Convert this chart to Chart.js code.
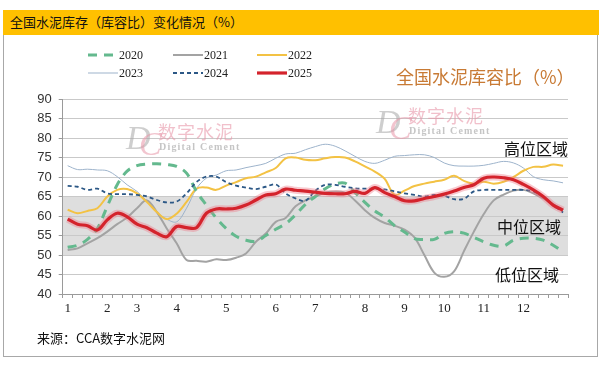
<!DOCTYPE html>
<html>
<head>
<meta charset="utf-8">
<script src="https://cdn.jsdelivr.net/npm/chart.js@4.4.1/dist/chart.umd.min.js"></script>
<style>
    html, body { margin: 0; padding: 0; background: #fff; }
    #wrap { position: relative; width: 605px; height: 367px; overflow: hidden; font-family: "Noto Sans CJK SC", sans-serif; }
    #head { position: absolute; left: 3px; top: 10px; width: 596px; height: 25px; background: #ffc000; }
    #head span { position: absolute; left: 7px; top: 3px; font-size: 13px; line-height: 18px; color: #111; }
    #frame { position: absolute; left: 3px; top: 35px; width: 593px; height: 321px; border: 1px solid #a8a8a8; border-top: none; }
    #chart { position: absolute; left: 0; top: 0; }
    .txt { position: absolute; white-space: nowrap; line-height: 1; }
    .zone { font-size: 16px; color: #111; }
    .leg { position: absolute; height: 14px; display: flex; align-items: center; font-family: "Liberation Serif", serif; font-size: 12px; color: #222; }
    .leg svg { margin-right: 1px; }
    .wm-d { font-family: "Liberation Serif", serif; font-style: italic; font-size: 34px; color: rgba(165,165,165,0.55); }
    .wm-c { font-family: "Liberation Serif", serif; font-style: italic; font-size: 34px; color: rgba(232,150,168,0.55); }
    .wm-cn { font-size: 18px; letter-spacing: 1px; color: rgba(232,150,168,0.6); font-family: "Noto Sans CJK SC", serif; }
    .wm-en { font-family: "Liberation Serif", serif; font-weight: bold; font-size: 10px; letter-spacing: 1.2px; color: rgba(150,150,150,0.55); }
</style>
</head>
<body>
<div id="wrap">
    <div id="head"><span>全国水泥库存（库容比）变化情况（%）</span></div>
    <div id="frame"></div>
    <canvas id="chart" width="605" height="367"></canvas>

    <!-- watermarks -->
    <div class="txt wm-d" style="left:126px;top:121px;">D</div>
    <div class="txt wm-c" style="left:139px;top:127px;">C</div>
    <div class="txt wm-cn" style="left:158px;top:122px;">数字水泥</div>
    <div class="txt wm-en" style="left:159px;top:142px;">Digital Cement</div>
    <div class="txt wm-d" style="left:376px;top:105px;">D</div>
    <div class="txt wm-c" style="left:389px;top:111px;">C</div>
    <div class="txt wm-cn" style="left:408px;top:106px;">数字水泥</div>
    <div class="txt wm-en" style="left:409px;top:126px;">Digital Cement</div>

    <div class="txt" style="left:396px;top:67px;font-size:18px;color:#c87a34;">全国水泥库容比（%）</div>
    <div class="txt zone" style="left:504px;top:140px;">高位区域</div>
    <div class="txt zone" style="left:497px;top:218px;">中位区域</div>
    <div class="txt zone" style="left:495px;top:266px;">低位区域</div>
    <div class="txt" style="left:37px;top:331px;font-size:13px;color:#111;">来源：CCA数字水泥网</div>
    <div id="legend"></div>
</div>

<script>
// weekly inventory ratio (%), 51 weeks per year
const monthLabels = ['1', '2', '3', '4', '5', '6', '7', '8', '9', '10', '11', '12'];
const monthWeek = [0, 4, 7, 11, 16, 21, 25, 30, 34, 38, 42, 46];

const y2020 = [52, 52.5, 54, 56.8, 62.5, 68, 71.5, 72.9, 73.3, 73.4, 73.2, 72.7, 71, 66.3, 62.8, 59.5, 56.8,
    54.8, 53.8, 53.5, 55, 56.6, 58, 60.3, 63, 65, 67, 68.2, 68.4, 66, 63.5, 61.3, 59.7, 57.5, 55.9, 54.2,
    54, 54, 55.5, 56, 55.6, 54.5, 53.4, 52.5, 52.3, 53.8, 54.3, 54.3, 53.8, 52.5, 50.8];
const y2021 = [51.3, 51.7, 53, 54.3, 56, 57.9, 59.6, 62, 64, 61, 56.8, 53, 48.7, 48.5, 48.3, 48.9, 48.7,
    49.3, 50.4, 53.4, 55.5, 58.5, 59.5, 62.5, 64, 65, 66, 66.3, 66, 64, 61.5, 59.5, 58.2, 57.5, 56.5, 54.5,
    50, 45.5, 44.4, 45.8, 51, 56, 60.5, 64, 65.5, 66.5, 66.7, 65.8, 64.5, 63, 61.5];
const y2022 = [61.6, 60.7, 61.3, 62, 65, 66.7, 66.9, 65.8, 63.6, 61, 59.2, 60.6, 63.6, 67, 67.3, 66.7, 67.8,
    68.7, 69.7, 70.1, 71.2, 72.3, 74.8, 75, 74.4, 74.3, 74.8, 75.1, 75, 74, 72.7, 71.4, 69.5, 65.4, 66.5,
    67.7, 68.3, 68.8, 69.3, 70.3, 69, 68.3, 68.8, 68.3, 68.8, 70, 71.6, 72.6, 72.6, 73.2, 72.9];
const y2023 = [72.9, 71.9, 72, 71.8, 71.6, 70.1, 68, 66.3, 63.8, 61.1, 59.2, 58.5, 62, 67, 69.7, 70.5, 71.6,
    71.8, 72.4, 72.9, 73.5, 74.8, 75.9, 76.1, 77, 77.8, 78.4, 77.9, 76.7, 75.3, 74, 73.5, 74.3, 75.3, 75.5,
    75.7, 75.7, 75, 73.6, 72.9, 72.8, 72.8, 73, 73.5, 74, 73.6, 72.3, 70.1, 69.3, 69, 68.5];
const y2024 = [67.7, 67.5, 66.7, 67, 65.8, 65.6, 65.6, 65.4, 65, 64.1, 63.5, 63.7, 65.8, 68.7, 70.1, 70.1,
    68.7, 67.8, 67.3, 66.9, 67.5, 68.1, 65.8, 64.5, 63.9, 66.5, 68, 68, 67.5, 67.1, 67, 67, 66.8, 66.3, 65.8,
    65.4, 65, 65.4, 65.2, 64.3, 64.4, 66.3, 66.7, 66.7, 66.7, 66.7, 66.7, 66.3, 65, 62.8, 60.9];
const y2025 = [59.2, 57.9, 57.5, 56.4, 59, 60.7, 59.8, 57.9, 57, 55.6, 54.7, 57.3, 57, 57, 60.7, 61.8, 61.8,
    62, 62.8, 64.1, 65.4, 65.7, 66.9, 66.6, 66.4, 66.1, 65.8, 65.7, 65.7, 66.3, 65.8, 67.3, 66, 65, 63.9,
    63.9, 64.5, 65, 65.6, 66.4, 67.3, 68, 69.7, 70, 69.8, 69.3, 68.1, 66.7, 65, 62.8, 61.5];

const yearNames = ['2020', '2021', '2022', '2023', '2024', '2025'];
const midZone = [50, 65];   // shaded "中位区域"

const weekLabels = y2025.map((_, i) => {
    const m = monthWeek.indexOf(i);
    return m >= 0 ? monthLabels[m] : '';
});

// year series, legend order
const series = [
    { label: yearNames[0], data: y2020, borderColor: '#64b98e', borderWidth: 3, borderDash: [9, 7], order: 3 },
    { label: yearNames[1], data: y2021, borderColor: '#a3a3a3', borderWidth: 2, order: 5 },
    { label: yearNames[2], data: y2022, borderColor: '#f3c244', borderWidth: 2, order: 4 },
    { label: yearNames[3], data: y2023, borderColor: '#9db3cb', borderWidth: 1, order: 6 },
    { label: yearNames[4], data: y2024, borderColor: '#2c5886', borderWidth: 1.8, borderDash: [4, 3], order: 2 },
    { label: yearNames[5], data: y2025, borderColor: '#d4232c', borderWidth: 3.2, order: 0 }
];

// soft pink glow under the 2025 line
const glow = { label: '', data: y2025, borderColor: 'rgba(238,120,135,0.4)', borderWidth: 7, order: 1 };

const datasets = series.concat([glow]).map(s => ({
    ...s,
    fill: false,
    tension: 0.35,
    pointRadius: 0,
    borderCapStyle: 'butt'
}));

const bandPlugin = {
    id: 'band',
    beforeDraw(chart) {
        const { ctx, chartArea, scales } = chart;
        const top = scales.y.getPixelForValue(midZone[1]);
        const bottom = scales.y.getPixelForValue(midZone[0]);
        ctx.save();
        ctx.fillStyle = '#dedede';
        ctx.fillRect(chartArea.left, top, chartArea.right - chartArea.left, bottom - top);
        ctx.restore();
    }
};

new Chart(document.getElementById('chart'), {
    type: 'line',
    data: { labels: weekLabels, datasets: datasets },
    options: {
        responsive: false,
        animation: false,
        layout: { padding: { left: 20, right: 37, top: 99, bottom: 53 } },
        plugins: {
            legend: { display: false },
            tooltip: { enabled: false }
        },
        scales: {
            x: {
                offset: true,
                grid: { offset: true, drawOnChartArea: false, drawTicks: true, tickLength: 4, tickColor: '#9a9a9a' },
                border: { display: true, color: '#9a9a9a' },
                ticks: {
                    autoSkip: false,
                    maxRotation: 0,
                    padding: 3,
                    color: '#222',
                    font: { family: "'Liberation Serif', serif", size: 13 }
                },
                afterFit(scale) { scale.height = 20; }
            },
            y: {
                min: 40,
                max: 90,
                ticks: {
                    stepSize: 5,
                    padding: 7,
                    color: '#333',
                    font: { family: "'Liberation Sans', sans-serif", size: 13 }
                },
                grid: { color: '#c9c9c9', lineWidth: 1, tickLength: 4, tickColor: '#9a9a9a' },
                border: { display: true, color: '#9a9a9a' },
                afterFit(scale) { scale.width = 42.7; }
            }
        }
    },
    plugins: [bandPlugin]
});

// html legend, two rows of three
const legend = document.getElementById('legend');
const legCols = [88, 173, 257];
const legRows = [48, 66];
series.forEach((s, i) => {
    const item = document.createElement('div');
    item.className = 'leg';
    item.style.left = legCols[i % 3] + 'px';
    item.style.top = legRows[Math.floor(i / 3)] + 'px';
    const dash = s.borderDash ? s.borderDash.join(',') : 'none';
    item.innerHTML = '<svg width="30" height="10"><line x1="0" y1="5" x2="30" y2="5" stroke="' + s.borderColor +
        '" stroke-width="' + s.borderWidth + '" stroke-dasharray="' + dash + '"/></svg><span>' + s.label + '</span>';
    legend.appendChild(item);
});
</script>
</body>
</html>
